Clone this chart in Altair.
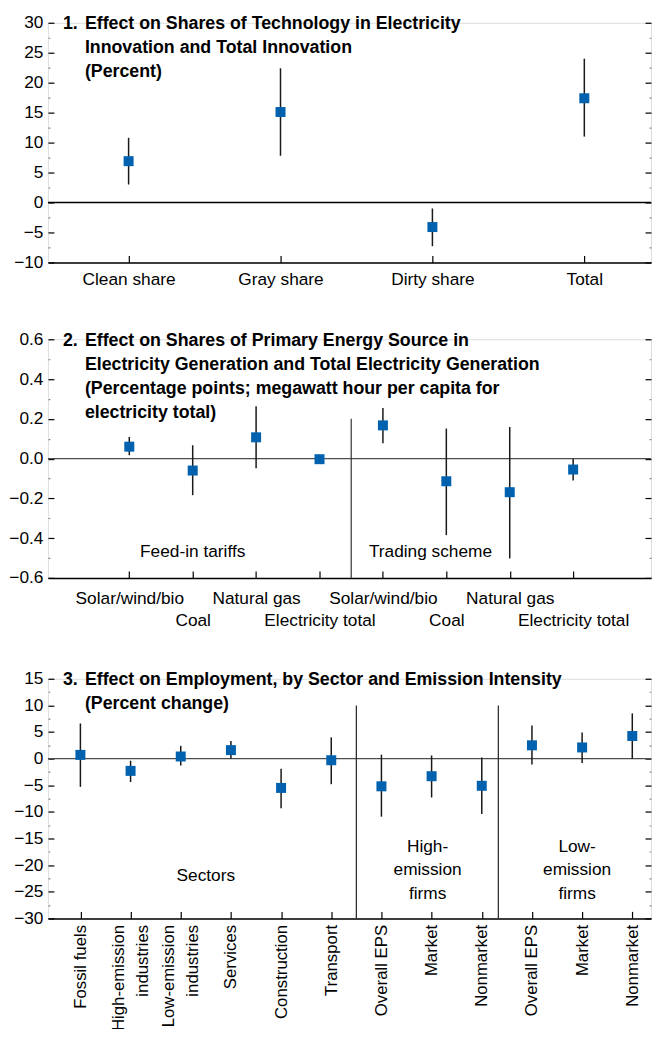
import json
import altair as alt
import pandas as pd

FONT = "Liberation Sans"
FS = 17.3
FSB = 17.8
BLUE = "#0061AE"
INK = "#1a1a1a"

# ---------------- Panel 1 ----------------
p1_categories = ["Clean share", "Gray share", "Dirty share", "Total"]
p1_estimate = [6.9, 15.1, -4.1, 17.4]
p1_lower = [3.0, 7.8, -7.3, 11.0]
p1_upper = [10.8, 22.4, -1.0, 24.0]
p1_title = ["Effect on Shares of Technology in Electricity",
            "Innovation and Total Innovation",
            "(Percent)"]

# ---------------- Panel 2 ----------------
p2_categories = ["Solar/wind/bio", "Coal", "Natural gas", "Electricity total",
                 "Solar/wind/bio", "Coal", "Natural gas", "Electricity total"]
p2_groups = ["Feed-in tariffs", "Trading scheme"]
p2_estimate = [0.060, -0.060, 0.107, -0.003, 0.167, -0.114, -0.169, -0.055]
p2_lower = [0.017, -0.184, -0.049, -0.012, 0.077, -0.385, -0.502, -0.110]
p2_upper = [0.109, 0.067, 0.263, 0.006, 0.254, 0.151, 0.159, -0.002]
p2_group_breaks = [4.5]
p2_title = ["Effect on Shares of Primary Energy Source in",
            "Electricity Generation and Total Electricity Generation",
            "(Percentage points; megawatt hour per capita for",
            "electricity total)"]

# ---------------- Panel 3 ----------------
p3_categories = ["Fossil fuels", "High-emission\nindustries", "Low-emission\nindustries",
                 "Services", "Construction", "Transport",
                 "Overall EPS", "Market", "Nonmarket",
                 "Overall EPS", "Market", "Nonmarket"]
p3_groups = ["Sectors", "High-\nemission\nfirms", "Low-\nemission\nfirms"]
p3_estimate = [0.7, -2.3, 0.4, 1.6, -5.5, -0.3, -5.2, -3.3, -5.1, 2.5, 2.1, 4.25]
p3_lower = [-5.3, -4.4, -1.3, 0.0, -9.3, -4.8, -10.9, -7.3, -10.4, -1.1, -0.8, 0.0]
p3_upper = [6.6, -0.4, 2.4, 3.3, -1.9, 4.0, 0.75, 0.6, 0.2, 6.2, 4.9, 8.5]
p3_group_breaks = [6.5, 9.33]
p3_title = ["Effect on Employment, by Sector and Emission Intensity",
            "(Percent change)"]


def frame(cats, est, lo, hi):
    return pd.DataFrame({"pos": list(range(1, len(cats) + 1)), "cat": cats,
                         "est": est, "lo": lo, "hi": hi})


def ticks(lo, hi, step):
    n = int(round((hi - lo) / step))
    return [round(lo + i * step, 4) for i in range(n + 1)]


def y_axis(orient, values, minor, fmt):
    common = dict(orient=orient, values=values, offset=-6, tickSize=6, domain=False,
                  grid=False, title=None, tickWidth=1.2,
                  tickColor={"condition": {"test": minor, "value": "#8a8a8a"}, "value": "black"},
                  tickDash={"condition": {"test": minor, "value": [0, 4, 2]}, "value": [10, 0]})
    if orient == "left":
        return alt.Axis(labelExpr=f"({minor}) ? '' : datum.label", format=fmt,
                        labelFont=FONT, labelFontSize=FS, labelColor="black",
                        labelPadding=5, **common)
    return alt.Axis(labels=False, **common)


def build(df, ydom, xdom, yvals, minor, fmt, xlabel_expr, width, height,
          number, title_lines, zero_color, extra_layers, xaxis_extra, xfs=FS):
    one = pd.DataFrame({"k": [0]})
    ysc = alt.Scale(domain=ydom, nice=False, zero=False)
    xsc = alt.Scale(domain=xdom, nice=False, zero=False)

    zero = alt.Chart(one).mark_rule(color=zero_color, strokeWidth=1.3).encode(
        y=alt.Y(datum=0, type="quantitative", scale=ysc,
                axis=y_axis("left", yvals, minor, fmt)))

    ci = alt.Chart(df).mark_rule(color=INK, strokeWidth=1.5).encode(
        x=alt.X("pos:Q", scale=xsc, axis=alt.Axis(
            orient="bottom", values=list(df["pos"]), offset=-7, tickSize=7,
            domain=False, grid=False, title=None, tickColor="black", tickWidth=1.2,
            labelExpr=xlabel_expr, labelFont=FONT, labelFontSize=xfs,
            labelColor="black", labelFlush=False, labelOverlap=False,
            **xaxis_extra)),
        y=alt.Y("lo:Q", scale=ysc, axis=None),
        y2="hi:Q")

    pts = alt.Chart(df).mark_square(size=100, color=BLUE, opacity=1).encode(
        x=alt.X("pos:Q", scale=xsc, axis=alt.Axis(
            orient="bottom", offset=0, domain=True, domainColor="black",
            domainWidth=1.5, ticks=False, labels=False, grid=False, title=None)),
        y=alt.Y("est:Q", scale=ysc, axis=y_axis("right", yvals, minor, fmt)))

    num = alt.Chart(one).mark_text(
        font=FONT, fontSize=FSB, fontWeight="bold", align="left",
        baseline="alphabetic", color="black").encode(
        x=alt.value(15), y=alt.value(6.5), text=alt.value(number))
    body = alt.Chart(one).mark_text(
        font=FONT, fontSize=FSB, fontWeight="bold", align="left",
        baseline="alphabetic", lineHeight=24, color="black").encode(
        x=alt.value(37), y=alt.value(6.5), text=alt.value(title_lines))

    layers = [zero] + extra_layers(one, xsc, ysc) + [ci, pts, num, body]
    return alt.layer(*layers).resolve_axis(x="independent", y="independent").properties(
        width=width, height=height)


W = 604

# ---- panel 1 ----
df1 = frame(p1_categories, p1_estimate, p1_lower, p1_upper)
panel1 = build(
    df1, [-10, 30], [0.469, 4.439], ticks(-10, 30, 2.5), "datum.value % 5 != 0", ".0f",
    f"{json.dumps(p1_categories)}[datum.value - 1]", W, 240, "1.", p1_title,
    "black", lambda one, xsc, ysc: [], dict(labelPadding=8))

# ---- panel 2 ----
df2 = frame(p2_categories, p2_estimate, p2_lower, p2_upper)
names2 = json.dumps(p2_categories)


def p2_extra(one, xsc, ysc):
    brk = alt.Chart(pd.DataFrame({"b": p2_group_breaks})).mark_rule(
        color="#333333", strokeWidth=1.2).encode(
        x=alt.X("b:Q", scale=xsc, axis=None),
        y=alt.Y(datum=0.2, type="quantitative", scale=ysc, axis=None),
        y2=alt.Y2(datum=-0.6))
    txt = []
    for label, xv in zip(p2_groups, [2.0, 5.75]):
        txt.append(alt.Chart(one).mark_text(
            font=FONT, fontSize=FS, align="center", baseline="middle", color="black").encode(
            x=alt.X(datum=xv, type="quantitative", scale=xsc, axis=None),
            y=alt.Y(datum=-0.47, type="quantitative", scale=ysc, axis=None),
            text=alt.value(label)))
    return [brk] + txt


panel2 = build(
    df2, [-0.6, 0.6], [-0.283, 9.228], ticks(-0.6, 0.6, 0.1),
    "round(datum.value * 10) % 2 != 0", ".1f",
    f"(datum.value % 2 == 0) ? ['', {names2}[datum.value - 1]] : {names2}[datum.value - 1]",
    W, 239, "2.", p2_title, "#4d4d4d", p2_extra,
    dict(labelPadding=12, labelLineHeight=22))

# ---- panel 3 ----
df3 = frame(p3_categories, p3_estimate, p3_lower, p3_upper)
names3 = json.dumps([c.split("\n") for c in p3_categories])
two_line_pos = json.dumps([i + 1 for i, c in enumerate(p3_categories) if "\n" in c])
LH3 = 24.5


def p3_extra(one, xsc, ysc):
    brk = alt.Chart(pd.DataFrame({"b": p3_group_breaks})).mark_rule(
        color="#222222", strokeWidth=1.2).encode(
        x=alt.X("b:Q", scale=xsc, axis=None),
        y=alt.Y(datum=10, type="quantitative", scale=ysc, axis=None),
        y2=alt.Y2(datum=-30))
    txt = []
    # y is the centre of the first line of each block
    for label, xv, yv in zip(p3_groups, [3.5, 7.92, 10.9], [-22, -16.6, -16.6]):
        txt.append(alt.Chart(one).mark_text(
            font=FONT, fontSize=FS, align="center", baseline="middle",
            lineHeight=23.4, color="black").encode(
            x=alt.X(datum=xv, type="quantitative", scale=xsc, axis=None),
            y=alt.Y(datum=yv, type="quantitative", scale=ysc, axis=None),
            text=alt.value(label.split("\n"))))
    return [brk] + txt


panel3 = build(
    df3, [-30, 15], [0.353, 12.373], ticks(-30, 15, 2.5), "datum.value % 5 != 0", ".0f",
    f"{names3}[datum.value - 1]", W, 240, "3.", p3_title, "#4d4d4d", p3_extra,
    dict(labelPadding=6, labelAngle=270, labelLineHeight=LH3,
         labelOffset={"condition": {"test": f"indexof({two_line_pos}, datum.value) >= 0",
                                    "value": -LH3 / 2}, "value": 0}),
    xfs=16.8)

lower = alt.vconcat(panel2, panel3, spacing=101, bounds="flush")
chart = alt.vconcat(panel1, lower, spacing=77, bounds="flush").properties(
    padding={"left": 0, "top": 4, "right": 0, "bottom": -3},
    background="white",
).configure_view(stroke=None).configure(font=FONT)

chart.save("out.html", embed_options={"renderer": "svg", "actions": False})
